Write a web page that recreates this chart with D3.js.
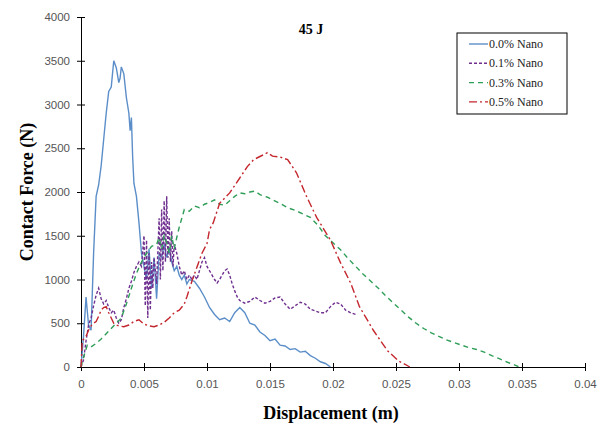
<!DOCTYPE html>
<html>
<head>
<meta charset="utf-8">
<script src="https://cdn.jsdelivr.net/npm/d3@7"></script>
<style>
  body { margin: 0; background: #fff; }
  .axis path, .axis line { stroke: #000; }
  .axis text { font-family: "Liberation Sans", sans-serif; font-size: 11.5px; fill: #555; }
</style>
</head>
<body>
<div id="chart"></div>
<script>
// values: [displacement (m), contact force (N)]
var nano00 = [[0,0],[0.0002,350],[0.0004,800],[0.0006,480],[0.0008,420],[0.001,1300],[0.0012,1950],[0.0014,2080],[0.0016,2300],[0.0018,2600],[0.002,2900],[0.0022,3150],[0.0024,3200],[0.0026,3500],[0.0028,3420],[0.003,3250],[0.0031,3300],[0.0032,3430],[0.0034,3350],[0.0036,3080],[0.0038,2900],[0.0039,2700],[0.004,2850],[0.0041,2400],[0.0042,2100],[0.0044,1950],[0.0046,1650],[0.0048,1300],[0.005,1150],[0.0052,1000],[0.0054,1350],[0.0056,900],[0.0058,1250],[0.006,780],[0.0062,1300],[0.0064,1250],[0.0066,1400],[0.0068,1250],[0.007,1350],[0.0072,1200],[0.0074,1100],[0.0076,1150],[0.0078,1050],[0.008,1000],[0.0082,1050],[0.0084,950],[0.0086,1000],[0.009,980],[0.0094,900],[0.0098,800],[0.0102,680],[0.0106,600],[0.011,540],[0.0114,560],[0.0118,520],[0.0122,620],[0.0126,680],[0.013,620],[0.0134,500],[0.0138,480],[0.0142,400],[0.0146,360],[0.015,300],[0.0154,320],[0.0158,250],[0.0162,240],[0.0166,200],[0.017,210],[0.0174,170],[0.0178,180],[0.0182,130],[0.0186,100],[0.019,60],[0.0194,40],[0.0198,0]];

var nano01 = [[0,0],[0.0002,80],[0.0004,300],[0.0006,480],[0.0008,560],[0.001,700],[0.0012,820],[0.0014,900],[0.0016,780],[0.0018,720],[0.002,760],[0.0022,680],[0.0024,620],[0.0026,650],[0.0028,560],[0.003,500],[0.0032,540],[0.0034,680],[0.0036,780],[0.0038,900],[0.004,980],[0.0042,1080],[0.0044,1150],[0.0046,1200],[0.0048,1150],[0.005,1500],[0.0051,700],[0.0052,1450],[0.0053,560],[0.0054,1300],[0.0055,650],[0.0056,1200],[0.0057,900],[0.0058,1250],[0.006,950],[0.0062,1700],[0.0063,1000],[0.0064,1800],[0.0065,1100],[0.0066,1900],[0.0067,1200],[0.0068,1950],[0.0069,1250],[0.007,1700],[0.0071,1200],[0.0072,1550],[0.0073,1150],[0.0074,1400],[0.0076,1300],[0.0078,1150],[0.008,1050],[0.0082,1100],[0.0084,1000],[0.0086,1050],[0.0088,1000],[0.009,1050],[0.0092,1000],[0.0094,1100],[0.0096,1200],[0.0098,1250],[0.01,1150],[0.0102,1100],[0.0104,1050],[0.0106,1000],[0.0108,960],[0.011,1000],[0.0112,1050],[0.0114,1100],[0.0116,1120],[0.0118,1050],[0.012,950],[0.0122,870],[0.0124,800],[0.0126,760],[0.013,730],[0.0134,750],[0.0138,800],[0.0142,760],[0.0146,730],[0.015,750],[0.0154,790],[0.0158,800],[0.0162,720],[0.0166,660],[0.017,700],[0.0174,740],[0.0178,720],[0.0182,660],[0.0186,640],[0.019,620],[0.0194,620],[0.0198,690],[0.0202,740],[0.0206,720],[0.021,650],[0.0214,620],[0.0218,600]];

var nano03 = [[0,0],[0.0002,110],[0.0005,250],[0.0008,230],[0.0012,270],[0.0016,320],[0.002,380],[0.0024,440],[0.0028,500],[0.0032,560],[0.0036,720],[0.004,900],[0.0044,1070],[0.0048,1200],[0.0052,1300],[0.0056,1380],[0.006,1400],[0.0062,1480],[0.0064,1350],[0.0066,1500],[0.0068,1420],[0.007,1300],[0.0072,1500],[0.0074,1350],[0.0076,1480],[0.0078,1600],[0.008,1700],[0.0082,1800],[0.0086,1780],[0.009,1840],[0.0094,1820],[0.0098,1860],[0.0102,1880],[0.0106,1910],[0.011,1860],[0.0114,1850],[0.0118,1900],[0.0122,1950],[0.0126,1990],[0.013,1980],[0.0134,2000],[0.0138,2010],[0.0142,1970],[0.0148,1940],[0.0152,1910],[0.0158,1870],[0.0164,1820],[0.017,1790],[0.0176,1750],[0.0182,1710],[0.0188,1620],[0.0194,1500],[0.02,1420],[0.0206,1340],[0.0212,1240],[0.0218,1150],[0.0224,1060],[0.023,980],[0.0236,900],[0.0242,810],[0.0248,730],[0.0254,650],[0.026,570],[0.0266,500],[0.0272,440],[0.0278,390],[0.0284,350],[0.029,310],[0.0296,280],[0.0302,250],[0.0308,220],[0.0314,200],[0.032,170],[0.0326,130],[0.0332,95],[0.0338,57],[0.0344,25],[0.0348,0]];

var nano05 = [[0,0],[0.0001,300],[0.0004,350],[0.0006,420],[0.0008,470],[0.001,500],[0.0012,520],[0.0014,580],[0.0016,650],[0.0018,680],[0.002,690],[0.0022,620],[0.0024,560],[0.0026,500],[0.0028,480],[0.003,470],[0.0034,460],[0.0038,480],[0.0042,520],[0.0046,540],[0.005,490],[0.0054,470],[0.0058,460],[0.0062,480],[0.0066,510],[0.007,560],[0.0074,620],[0.0078,650],[0.0082,720],[0.0084,800],[0.0088,980],[0.0092,1140],[0.0096,1300],[0.01,1410],[0.0102,1570],[0.0105,1650],[0.011,1870],[0.0118,1990],[0.0126,2160],[0.0132,2290],[0.0137,2370],[0.0144,2420],[0.0148,2450],[0.0152,2410],[0.0158,2400],[0.0164,2370],[0.0171,2220],[0.0179,1950],[0.0187,1710],[0.0198,1450],[0.0206,1190],[0.0214,960],[0.0221,690],[0.0232,420],[0.0243,190],[0.0252,70],[0.0261,0]];

var seriesNames = ["0.0% Nano", "0.1% Nano", "0.3% Nano", "0.5% Nano"];
var xTicks = [0, 0.005, 0.01, 0.015, 0.02, 0.025, 0.03, 0.035, 0.04];
var yTicks = [0, 500, 1000, 1500, 2000, 2500, 3000, 3500, 4000];

var seriesList = [
  { name: seriesNames[0], values: nano00, color: "#5b8ec8", dash: null },
  { name: seriesNames[1], values: nano01, color: "#6e2f8f", dash: "3,2" },
  { name: seriesNames[2], values: nano03, color: "#2f9e58", dash: "5,4" },
  { name: seriesNames[3], values: nano05, color: "#c4262e", dash: "8,3,2,3" }
];

// whitespace around the plot
var margin = {top: 17, right: 19, bottom: 57, left: 81}
  , width = 604 - margin.left - margin.right
  , height = 424 - margin.top - margin.bottom;

var x = d3.scaleLinear().domain([0, 0.04]).range([0, width]);
var y = d3.scaleLinear().domain([0, 4000]).range([height, 0]);

var svg = d3.select("#chart").append("svg")
  .attr("width", 604)
  .attr("height", 424);

var main = svg.append("g")
  .attr("transform", "translate(" + margin.left + "," + margin.top + ")");

// x axis, ticks cross the line
var xAxis = main.append("g")
  .attr("class", "axis")
  .attr("transform", "translate(0," + height + ")")
  .call(d3.axisBottom(x).tickValues(xTicks).tickSize(4).tickSizeOuter(0).tickPadding(9)
    .tickFormat(function(d) { return d; }));
xAxis.selectAll(".tick line").attr("y1", -4);

// y axis
var yAxis = main.append("g")
  .attr("class", "axis")
  .call(d3.axisLeft(y).tickValues(yTicks).tickSize(4).tickSizeOuter(0).tickPadding(8)
    .tickFormat(d3.format("d")));
yAxis.selectAll(".tick line").attr("x1", 4);
yAxis.selectAll(".tick text").attr("x", -11);

var line = d3.line()
  .x(function(d) { return x(d[0]); })
  .y(function(d) { return y(d[1]); });

seriesList.forEach(function(s) {
  main.append("path")
    .datum(s.values)
    .attr("fill", "none")
    .attr("stroke", s.color)
    .attr("stroke-width", 1.4)
    .attr("stroke-dasharray", s.dash)
    .attr("d", line);
});

// title
svg.append("text")
  .attr("x", 311).attr("y", 34)
  .attr("text-anchor", "middle")
  .style("font-family", "Liberation Serif, serif")
  .style("font-weight", "bold")
  .style("font-size", "14px")
  .text("45 J");

// axis titles
svg.append("text")
  .attr("text-anchor", "middle")
  .attr("transform", "translate(33," + (margin.top + height / 2) + ")rotate(-90)")
  .style("font-family", "Liberation Serif, serif")
  .style("font-weight", "bold")
  .style("font-size", "18px")
  .text("Contact Force (N)");

svg.append("text")
  .attr("text-anchor", "middle")
  .attr("x", margin.left + width / 2 - 2)
  .attr("y", 419)
  .style("font-family", "Liberation Serif, serif")
  .style("font-weight", "bold")
  .style("font-size", "18px")
  .text("Displacement (m)");

// legend
var legend = svg.append("g").attr("transform", "translate(457,33)");
legend.append("rect")
  .attr("width", 110).attr("height", 81)
  .attr("fill", "#fff").attr("stroke", "#000").attr("stroke-width", 1);

var items = legend.selectAll(".item")
  .data(seriesList)
  .enter().append("g")
  .attr("transform", function(d, i) { return "translate(0," + (11 + i * 19.3) + ")"; });

items.append("line")
  .attr("x1", 12).attr("x2", 31)
  .attr("stroke", function(d) { return d.color; })
  .attr("stroke-width", 1.4)
  .attr("stroke-dasharray", function(d) { return d.dash; });

items.append("text")
  .attr("x", 32).attr("y", 4)
  .style("font-family", "Liberation Serif, serif")
  .style("font-size", "12px")
  .style("fill", "#222")
  .text(function(d) { return d.name; });
</script>
</body>
</html>
